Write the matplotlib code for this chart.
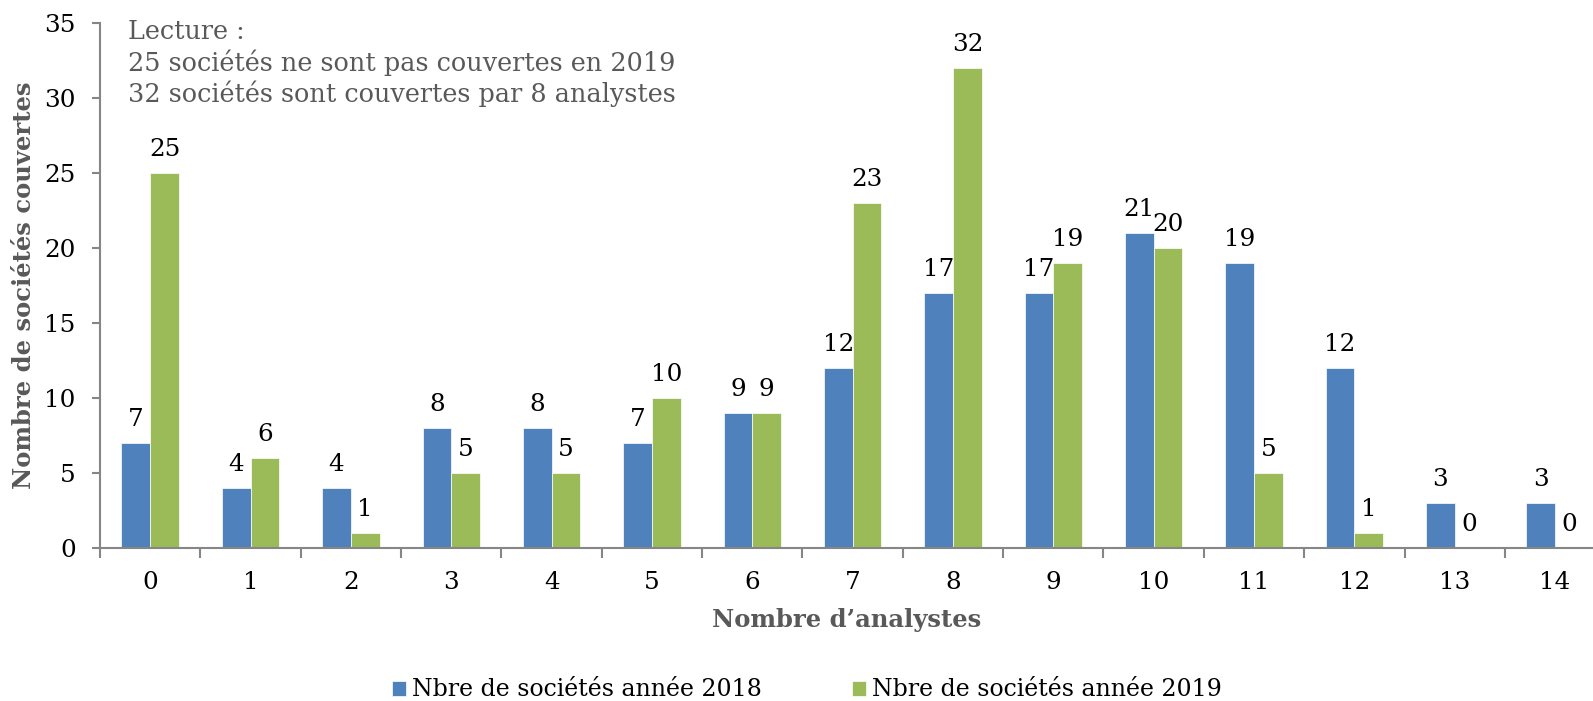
import matplotlib
matplotlib.use("Agg")
import matplotlib.pyplot as plt
import numpy as np

categories = [str(i) for i in range(15)]
values_2018 = [7, 4, 4, 8, 8, 7, 9, 12, 17, 17, 21, 19, 12, 3, 3]
values_2019 = [25, 6, 1, 5, 5, 10, 9, 23, 32, 19, 20, 5, 1, 0, 0]
series_names = ["Nbre de sociétés année 2018", "Nbre de sociétés année 2019"]
yticks = [0, 5, 10, 15, 20, 25, 30, 35]
note_lines = ["Lecture :", "25 sociétés ne sont pas couvertes en 2019",
              "32 sociétés sont couvertes par 8 analystes"]

BLUE = "#4F81BD"
GREEN = "#9BBB59"
AXC = "#868686"
GREY_TXT = "#595959"
font = "DejaVu Serif"
NUMSIZE = 17.7

fig = plt.figure(figsize=(15.93, 7.01), dpi=100)
W, H = 1593, 701
x_left, x_right = -0.5, 14.378
ax = fig.add_axes([100 / W, 1 - 547.7 / H, (W - 100) / W, (547.7 - 22.7) / H])

x = np.arange(len(categories))
bw = 0.286
b1 = ax.bar(x - bw / 2, values_2018, bw, color=BLUE, edgecolor="white", linewidth=0.5, label=series_names[0])
b2 = ax.bar(x + bw / 2, values_2019, bw, color=GREEN, edgecolor="white", linewidth=0.5, label=series_names[1])

for bars, vals in ((b1, values_2018), (b2, values_2019)):
    for rect, v in zip(bars, vals):
        ax.annotate(str(v), (rect.get_x() + rect.get_width() / 2, v),
                    xytext=(0, 8.5), textcoords="offset points", ha="center", va="bottom",
                    fontsize=NUMSIZE, family=font, color="black")

ax.set_xlim(x_left, x_right)
ax.set_ylim(0, 35)
ax.set_yticks(yticks)
ax.set_yticklabels([str(t) for t in yticks], family=font, fontsize=NUMSIZE)
ax.set_xticks(x)
ax.set_xticklabels(categories, family=font, fontsize=NUMSIZE)
ax.tick_params(axis="x", length=0, pad=16.5)
ax.set_xticks(np.arange(-0.5, len(categories) - 0.5, 1), minor=True)
ax.tick_params(axis="x", which="minor", length=7, color=AXC, width=1.5, direction="out")
ax.tick_params(axis="y", length=6, color=AXC, width=1.5, direction="out", pad=11.5)
for s in ("top", "right"):
    ax.spines[s].set_visible(False)
for s in ("left", "bottom"):
    ax.spines[s].set_color(AXC)
    ax.spines[s].set_linewidth(1.5)

ax.set_xlabel("Nombre d’analystes", family=font, fontweight="bold", fontsize=17.5,
              color=GREY_TXT, labelpad=10)
ax.set_ylabel("Nombre de sociétés couvertes", family=font, fontweight="bold", fontsize=17.5,
              color=GREY_TXT, labelpad=6)

baselines = [39, 70.5, 102]
for line, yb in zip(note_lines, baselines):
    fig.text(128 / W, 1 - yb / H, line, ha="left", va="baseline", fontsize=18.4,
             family=font, color=GREY_TXT)

leg = fig.legend(handles=[b1, b2], labels=series_names, loc="center", bbox_to_anchor=(807 / W, 1 - 690 / H),
                 ncol=2, frameon=False, prop={"family": font, "size": 17},
                 handlelength=0.6, handleheight=0.6, handletextpad=0.25, columnspacing=3.8,
                 borderpad=0.0)

fig.savefig("out.png", dpi=100)
